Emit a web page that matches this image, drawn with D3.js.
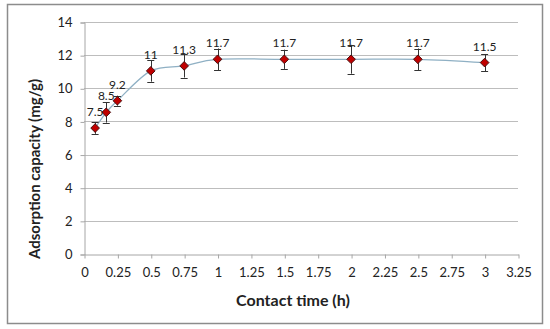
<!DOCTYPE html>
<html>
<head>
<meta charset="utf-8">
<script src="https://cdn.jsdelivr.net/npm/d3@7"></script>
<style>
  body { margin: 0; background: #fff; }
  text { font-family: Lato, "Open Sans", sans-serif; fill: #222; }
</style>
</head>
<body>
<div id="chart"></div>
<script>
// Contact time (h) and adsorption capacity (mg/g)
const times = [0.0833, 0.1667, 0.25, 0.5, 0.75, 1, 1.5, 2, 2.5, 3];
const capacity = [7.6, 8.55, 9.25, 11.05, 11.35, 11.75, 11.75, 11.75, 11.75, 11.55];
const errors = [0.35, 0.62, 0.3, 0.65, 0.7, 0.65, 0.58, 0.87, 0.65, 0.52];
const labels = ["7.5", "8.5", "9.2", "11", "11.3", "11.7", "11.7", "11.7", "11.7", "11.5"];
const xTicks = [0, 0.25, 0.5, 0.75, 1, 1.25, 1.5, 1.75, 2, 2.25, 2.5, 2.75, 3, 3.25];
const yTicks = [0, 2, 4, 6, 8, 10, 12, 14];

const width = 550, height = 329;
const plot = { left: 84, right: 518, top: 22, bottom: 254 };

const data = times.map((t, i) => ({ t: t, v: capacity[i], e: errors[i], label: labels[i] }));

const svg = d3.select("#chart").append("svg")
    .attr("width", width)
    .attr("height", height);

// outer chart border
svg.append("rect")
    .attr("x", 7.5).attr("y", 4.5)
    .attr("width", 535).attr("height", 319)
    .attr("fill", "none")
    .attr("stroke", "#8c8c8c")
    .attr("stroke-width", 1.5);

const x = d3.scaleLinear().domain([0, 3.25]).range([plot.left, plot.right]);
const y = d3.scaleLinear().domain([0, 14]).range([plot.bottom, plot.top]);

// horizontal gridlines
svg.append("g")
    .selectAll("line")
    .data(yTicks.filter(d => d > 0))
    .enter().append("line")
    .attr("x1", plot.left).attr("x2", plot.right)
    .attr("y1", d => Math.round(y(d)) + 0.5)
    .attr("y2", d => Math.round(y(d)) + 0.5)
    .attr("stroke", "#bdbdbd")
    .attr("stroke-width", 1);

// y axis
const yAxis = svg.append("g")
    .attr("transform", `translate(${plot.left + 0.5},0.5)`)
    .call(d3.axisLeft(y).tickValues(yTicks).tickSize(4).tickPadding(8).tickFormat(d3.format("d")));
yAxis.select(".domain").attr("stroke", "#a6a6a6");
yAxis.selectAll(".tick line").attr("stroke", "#a6a6a6");
yAxis.selectAll(".tick text").attr("font-size", 13).style("fill", "#222");

// x axis
const xAxis = svg.append("g")
    .attr("transform", `translate(0.5,${plot.bottom + 0.5})`)
    .call(d3.axisBottom(x).tickValues(xTicks).tickSize(4).tickSizeOuter(0).tickPadding(9).tickFormat(d => String(d)));
xAxis.select(".domain").attr("stroke", "#a6a6a6");
xAxis.selectAll(".tick line").attr("stroke", "#a6a6a6");
xAxis.selectAll(".tick text").attr("font-size", 13).style("fill", "#222");

// axis titles
svg.append("text")
    .attr("x", 293).attr("y", 306)
    .attr("text-anchor", "middle")
    .attr("font-size", 16).attr("font-weight", "bold")
    .text("Contact time (h)");

svg.append("text")
    .attr("transform", "translate(40,169) rotate(-90)")
    .attr("text-anchor", "middle")
    .attr("font-size", 15).attr("font-weight", "bold")
    .text("Adsorption capacity (mg/g)");

// smoothed line
const line = d3.line()
    .x(d => x(d.t))
    .y(d => y(d.v))
    .curve(d3.curveCardinal.tension(0));

svg.append("path")
    .datum(data)
    .attr("d", line)
    .attr("fill", "none")
    .attr("stroke", "#8fb0c4")
    .attr("stroke-width", 1.3);

// error bars
const eb = svg.append("g").attr("stroke", "#333").attr("stroke-width", 1);
eb.selectAll(".v").data(data).enter().append("line")
    .attr("x1", d => Math.round(x(d.t)) + 0.5).attr("x2", d => Math.round(x(d.t)) + 0.5)
    .attr("y1", d => y(d.v + d.e)).attr("y2", d => y(d.v - d.e));
eb.selectAll(".top").data(data).enter().append("line")
    .attr("x1", d => x(d.t) - 3.5).attr("x2", d => x(d.t) + 3.5)
    .attr("y1", d => Math.round(y(d.v + d.e)) + 0.5).attr("y2", d => Math.round(y(d.v + d.e)) + 0.5);
eb.selectAll(".bot").data(data).enter().append("line")
    .attr("x1", d => x(d.t) - 3.5).attr("x2", d => x(d.t) + 3.5)
    .attr("y1", d => Math.round(y(d.v - d.e)) + 0.5).attr("y2", d => Math.round(y(d.v - d.e)) + 0.5);

// diamond markers
svg.append("g")
    .selectAll("path")
    .data(data)
    .enter().append("path")
    .attr("transform", d => `translate(${x(d.t)},${y(d.v)})`)
    .attr("d", d3.symbol().type(d3.symbolDiamond2).size(48))
    .attr("fill", "#c00000")
    .attr("stroke", "#4a1010")
    .attr("stroke-width", 1);

// data labels
svg.append("g")
    .selectAll("text")
    .data(data)
    .enter().append("text")
    .attr("x", d => x(d.t))
    .attr("y", d => y(d.v) - 12)
    .attr("text-anchor", "middle")
    .attr("font-size", 12)
    .text(d => d.label);
</script>
</body>
</html>
